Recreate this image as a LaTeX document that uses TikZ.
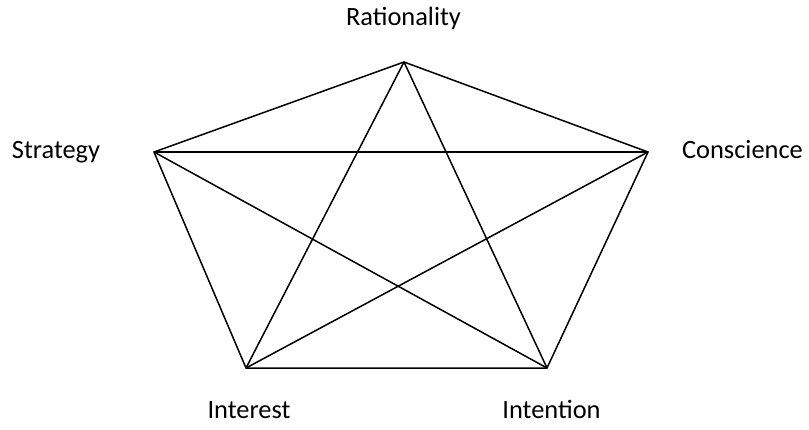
\documentclass[tikz,border=0pt]{standalone}
\usepackage{fontspec}
\setmainfont{Carlito}
\begin{document}
\begin{tikzpicture}[x=1bp,y=-1bp,
  edge/.style={line width=1.5bp,black},
  lbl/.style={font=\fontsize{26.5}{30}\selectfont,inner sep=0pt,anchor=base}]
\useasboundingbox (0,0) rectangle (809,429);
\coordinate (R) at (404,62);
\coordinate (S) at (154,152);
\coordinate (C) at (648,152);
\coordinate (I) at (246,368);
\coordinate (N) at (547,368);
\draw[edge] (R) -- (C) -- (N) -- (I) -- (S) -- cycle;
\draw[edge] (R) -- (I);
\draw[edge] (R) -- (N);
\draw[edge] (S) -- (C);
\draw[edge] (S) -- (N);
\draw[edge] (C) -- (I);
\node[lbl] (tR) at (403.5,25) {Rationality};
\node[lbl] (tS) at (56,158) {Strategy};
\node[lbl] (tC) at (742.5,158) {Conscience};
\node[lbl] (tI) at (249,418) {Interest};
\node[lbl] (tN) at (551.5,418) {Intention};
\end{tikzpicture}
\end{document}
